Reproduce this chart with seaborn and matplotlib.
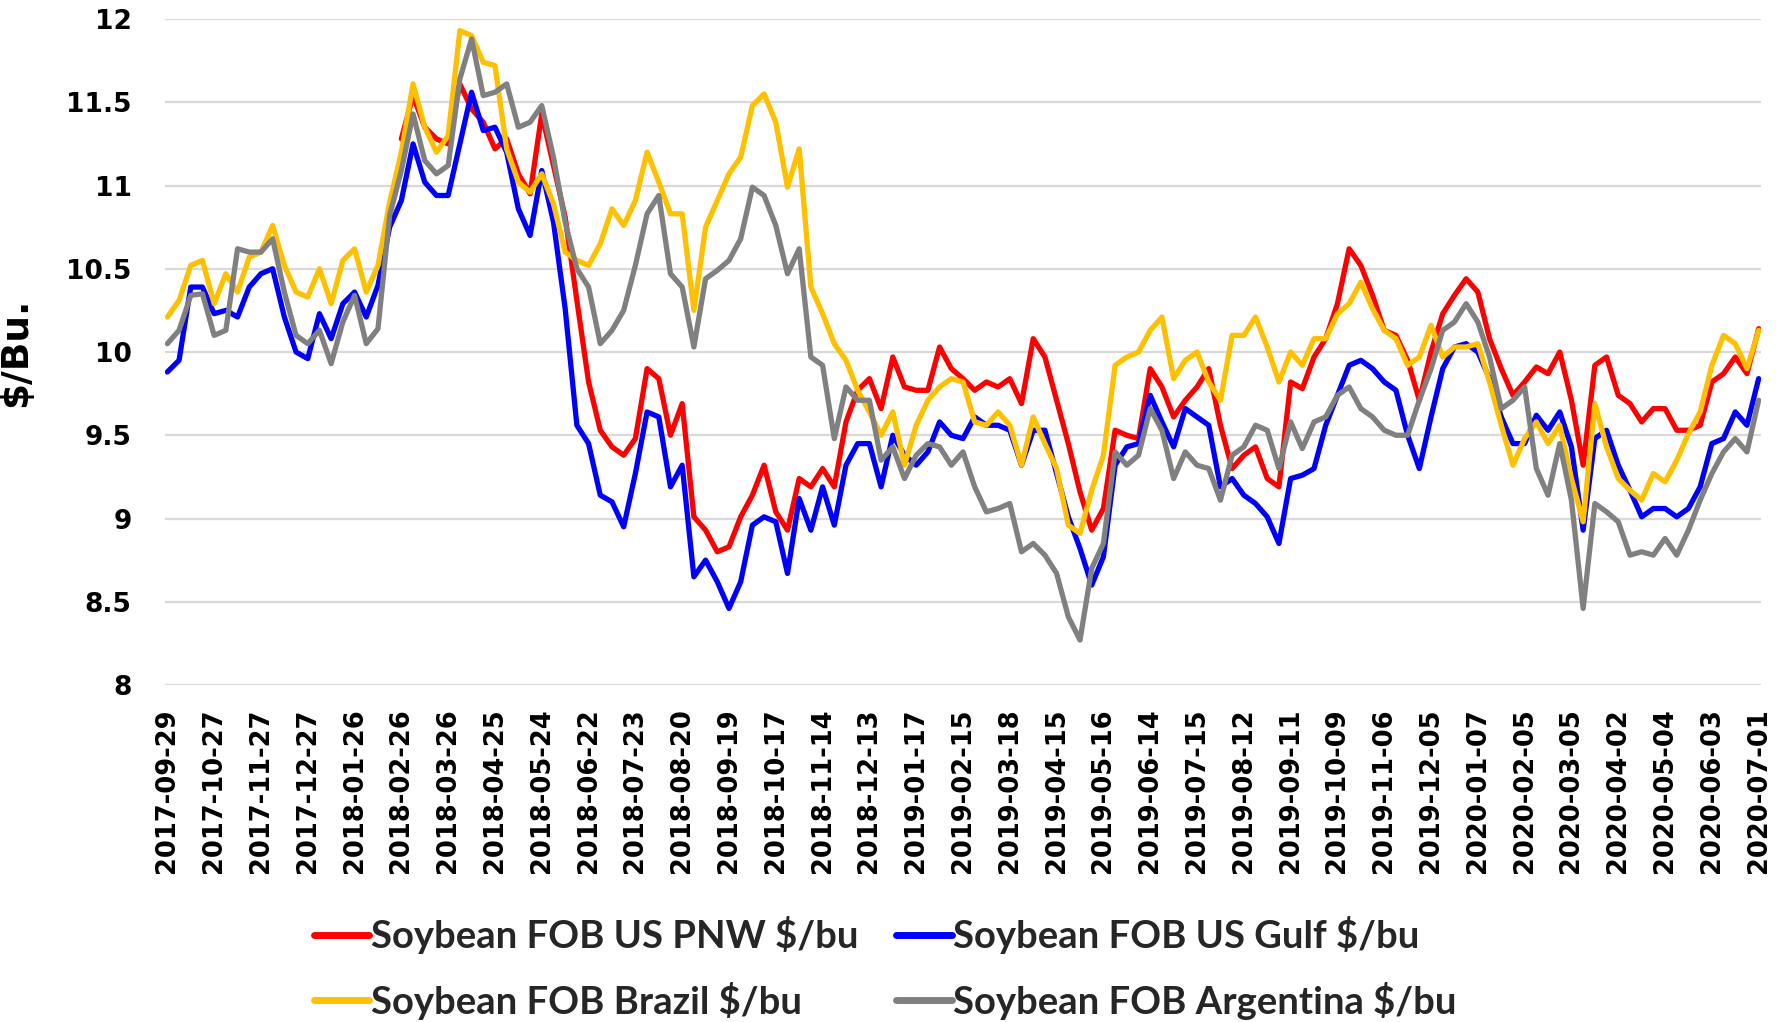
import numpy as np
import pandas as pd
import matplotlib
matplotlib.use("Agg")
import matplotlib.pyplot as plt
from matplotlib.lines import Line2D
import seaborn as sns

nan = np.nan

# ---------------- data (one sample every 5 trading days) ----------------
sample_step = 5
tick_labels = [
    "2017-09-29", "2017-10-27", "2017-11-27", "2017-12-27", "2018-01-26",
    "2018-02-26", "2018-03-26", "2018-04-25", "2018-05-24", "2018-06-22",
    "2018-07-23", "2018-08-20", "2018-09-19", "2018-10-17", "2018-11-14",
    "2018-12-13", "2019-01-17", "2019-02-15", "2019-03-18", "2019-04-15",
    "2019-05-16", "2019-06-14", "2019-07-15", "2019-08-12", "2019-09-11",
    "2019-10-09", "2019-11-06", "2019-12-05", "2020-01-07", "2020-02-05",
    "2020-03-05", "2020-04-02", "2020-05-04", "2020-06-03", "2020-07-01",
]
tick_every_days = 20

us_pnw = [nan] * 20 + [
    11.28, 11.54, 11.35, 11.28, 11.25, 11.61, 11.46, 11.38, 11.22, 11.28,
    11.07, 10.95, 11.43, 11.12, 10.81, 10.31, 9.82, 9.53, 9.43, 9.38,
    9.48, 9.90, 9.84, 9.50, 9.69, 9.01, 8.93, 8.80, 8.83, 9.01,
    9.14, 9.32, 9.04, 8.93, 9.24, 9.19, 9.30, 9.19, 9.58, 9.77,
    9.84, 9.66, 9.97, 9.79, 9.77, 9.77, 10.03, 9.90, 9.84, 9.77,
    9.82, 9.79, 9.84, 9.69, 10.08, 9.97, 9.71, 9.45, 9.16, 8.93,
    9.06, 9.53, 9.50, 9.48, 9.90, 9.79, 9.61, 9.71, 9.79, 9.90,
    9.56, 9.30, 9.38, 9.43, 9.24, 9.19, 9.82, 9.78, 9.97, 10.08,
    10.29, 10.62, 10.52, 10.34, 10.13, 10.10, 9.95, 9.71, 10.00, 10.23,
    10.34, 10.44, 10.36, 10.08, 9.90, 9.74, 9.82, 9.91, 9.87, 10.00,
    9.71, 9.32, 9.92, 9.97, 9.74, 9.69, 9.58, 9.66, 9.66, 9.53,
    9.53, 9.56, 9.82, 9.87, 9.97, 9.87, 10.14,
]

us_gulf = [
    9.88, 9.95, 10.39, 10.39, 10.23, 10.25, 10.21, 10.39, 10.47, 10.50,
    10.21, 10.00, 9.96, 10.23, 10.08, 10.29, 10.36, 10.21, 10.40, 10.75,
    10.91, 11.25, 11.02, 10.94, 10.94, 11.25, 11.56, 11.33, 11.35, 11.20,
    10.86, 10.70, 11.09, 10.78, 10.26, 9.56, 9.45, 9.14, 9.10, 8.95,
    9.27, 9.64, 9.61, 9.19, 9.32, 8.65, 8.75, 8.62, 8.46, 8.62,
    8.96, 9.01, 8.98, 8.67, 9.12, 8.93, 9.19, 8.96, 9.32, 9.45,
    9.45, 9.19, 9.50, 9.38, 9.32, 9.40, 9.58, 9.50, 9.48, 9.61,
    9.56, 9.56, 9.53, 9.32, 9.53, 9.53, 9.27, 9.01, 8.82, 8.60,
    8.77, 9.32, 9.43, 9.45, 9.74, 9.58, 9.43, 9.66, 9.61, 9.56,
    9.19, 9.24, 9.14, 9.09, 9.01, 8.85, 9.24, 9.26, 9.30, 9.56,
    9.74, 9.92, 9.95, 9.90, 9.82, 9.77, 9.50, 9.30, 9.61, 9.90,
    10.03, 10.05, 10.00, 9.84, 9.61, 9.45, 9.45, 9.62, 9.53, 9.64,
    9.43, 8.93, 9.48, 9.53, 9.32, 9.17, 9.01, 9.06, 9.06, 9.01,
    9.06, 9.19, 9.45, 9.48, 9.64, 9.56, 9.84,
]

brazil = [
    10.21, 10.31, 10.52, 10.55, 10.29, 10.47, 10.36, 10.57, 10.60, 10.76,
    10.52, 10.36, 10.33, 10.50, 10.29, 10.55, 10.62, 10.36, 10.52, 10.90,
    11.20, 11.61, 11.35, 11.20, 11.30, 11.93, 11.90, 11.74, 11.72, 11.22,
    11.02, 10.96, 11.07, 10.89, 10.60, 10.55, 10.52, 10.65, 10.86, 10.76,
    10.91, 11.20, 11.02, 10.83, 10.83, 10.25, 10.75, 10.91, 11.07, 11.17,
    11.48, 11.55, 11.38, 10.99, 11.22, 10.39, 10.23, 10.05, 9.95, 9.77,
    9.64, 9.50, 9.64, 9.32, 9.56, 9.71, 9.79, 9.84, 9.82, 9.58,
    9.56, 9.64, 9.56, 9.32, 9.61, 9.45, 9.30, 8.96, 8.91, 9.17,
    9.38, 9.92, 9.97, 10.00, 10.13, 10.21, 9.84, 9.95, 10.00, 9.82,
    9.71, 10.10, 10.10, 10.21, 10.03, 9.82, 10.00, 9.92, 10.08, 10.08,
    10.23, 10.29, 10.42, 10.26, 10.13, 10.08, 9.92, 9.97, 10.16, 9.97,
    10.03, 10.03, 10.05, 9.82, 9.56, 9.32, 9.48, 9.58, 9.45, 9.56,
    9.24, 8.98, 9.69, 9.43, 9.24, 9.17, 9.11, 9.27, 9.22, 9.35,
    9.51, 9.64, 9.92, 10.10, 10.05, 9.90, 10.13,
]

argentina = [
    10.05, 10.13, 10.34, 10.35, 10.10, 10.13, 10.62, 10.60, 10.60, 10.68,
    10.36, 10.10, 10.05, 10.13, 9.93, 10.18, 10.34, 10.05, 10.14, 10.82,
    11.09, 11.43, 11.15, 11.07, 11.12, 11.64, 11.88, 11.54, 11.56, 11.61,
    11.35, 11.38, 11.48, 11.17, 10.78, 10.50, 10.39, 10.05, 10.13, 10.25,
    10.52, 10.83, 10.94, 10.47, 10.39, 10.03, 10.44, 10.49, 10.55, 10.68,
    10.99, 10.94, 10.76, 10.47, 10.62, 9.97, 9.92, 9.48, 9.79, 9.71,
    9.71, 9.35, 9.43, 9.24, 9.38, 9.45, 9.43, 9.32, 9.40, 9.19,
    9.04, 9.06, 9.09, 8.80, 8.85, 8.78, 8.67, 8.41, 8.27, 8.70,
    8.85, 9.40, 9.32, 9.38, 9.66, 9.53, 9.24, 9.40, 9.32, 9.30,
    9.11, 9.38, 9.43, 9.56, 9.53, 9.30, 9.58, 9.42, 9.58, 9.61,
    9.74, 9.79, 9.66, 9.61, 9.53, 9.50, 9.50, 9.71, 9.90, 10.13,
    10.18, 10.29, 10.18, 9.97, 9.66, 9.71, 9.79, 9.30, 9.14, 9.45,
    9.11, 8.46, 9.09, 9.04, 8.98, 8.78, 8.80, 8.78, 8.88, 8.78,
    8.93, 9.11, 9.27, 9.40, 9.48, 9.40, 9.71,
]

series_names = [
    "Soybean FOB US PNW $/bu",
    "Soybean FOB US Gulf $/bu",
    "Soybean FOB Brazil $/bu",
    "Soybean FOB Argentina $/bu",
]
series_values = [us_pnw, us_gulf, brazil, argentina]
series_colors = ["#FF0000", "#0000FF", "#FFC000", "#808080"]

# ---------------- build long-form table ----------------
frames = []
for name, vals in zip(series_names, series_values):
    vals = np.asarray(vals, dtype=float)
    frames.append(pd.DataFrame({
        "day": np.arange(len(vals)) * sample_step,
        "price": vals,
        "series": name,
    }))
df = pd.concat(frames, ignore_index=True).dropna()

# ---------------- plot ----------------
sns.set_theme(style="white")
plt.rcParams["font.family"] = ["DejaVu Sans"]

W, H = 1781, 1022
fig = plt.figure(figsize=(W / 100, H / 100), dpi=100)
ax = fig.add_axes([165 / W, 1 - 685 / H, (1761 - 165) / W, (685 - 19) / H])

palette = dict(zip(series_names, series_colors))
sns.lineplot(data=df, x="day", y="price", hue="series", hue_order=series_names,
             palette=palette, linewidth=3.8, estimator=None, legend=False,
             ax=ax, zorder=3)

n_days = (len(tick_labels) - 1) * tick_every_days
ax.set_xlim(-1, n_days + 1)
ax.set_ylim(8, 12)

yt = np.arange(8, 12.01, 0.5)
ax.set_yticks(yt)
ax.set_yticklabels([f"{v:g}" for v in yt], fontsize=19, fontweight="bold")
ax.set_xticks(np.arange(0, n_days + 1, tick_every_days))
ax.set_xticklabels(tick_labels, rotation=90, fontsize=18.5, fontweight="bold")
ax.tick_params(axis="x", length=0, pad=17, colors="black")
ax.tick_params(axis="y", length=0, pad=24, colors="black")

ax.yaxis.grid(True, color="#D9D9D9", linewidth=1.6, zorder=0)
ax.xaxis.grid(False)
for s in ax.spines.values():
    s.set_visible(False)

ax.set_xlabel("")
ax.set_ylabel("$/Bu.", fontsize=27, fontweight="bold", color="black")
ax.yaxis.set_label_coords(-0.082, 0.5)

# legend: rows = (PNW, Gulf), (Brazil, Argentina)
order = [0, 2, 1, 3]
handles = [Line2D([], [], color=series_colors[i], linewidth=5) for i in order]
labels = [series_names[i] for i in order]
fig.legend(handles, labels, ncol=2, loc="center", bbox_to_anchor=(0.497, 0.053),
           frameon=False, handlelength=1.45, handletextpad=0.03,
           columnspacing=1.0, labelspacing=0.72,
           prop={"family": ["Lato", "DejaVu Sans"],
                 "weight": "bold", "size": 27.5})

fig.savefig("out.png", dpi=100)
